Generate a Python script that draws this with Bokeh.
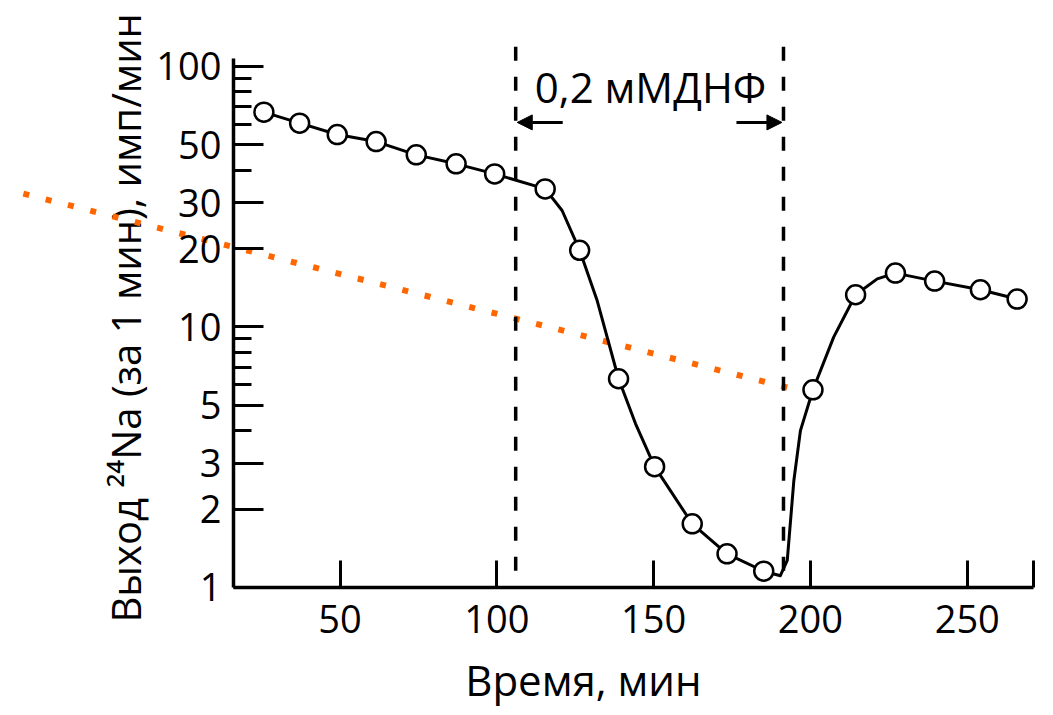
import math
from bokeh.plotting import figure
from bokeh.models import Range1d, FixedTicker, NumeralTickFormatter, Arrow, NormalHead
from bokeh.core.properties import value
from bokeh.embed import file_html
from bokeh.resources import INLINE

# ---- data ----
# measured points (time, min ; 24Na efflux, imp/min)
time_pts = [25.7, 37.1, 49.1, 61.5, 74.3, 87.0, 99.3, 115.4, 126.4, 138.8, 150.3,
            162.3, 173.4, 185.1, 200.8, 214.4, 227.1, 239.6, 254.2, 265.9]
efflux_pts = [66.8, 60.6, 54.8, 51.5, 45.8, 42.3, 38.7, 33.9, 19.7, 6.33, 2.91,
              1.756, 1.347, 1.155, 5.74, 13.3, 16.1, 15.0, 13.9, 12.8]

# hand-drawn curve through the points
curve_time = [25.7, 37.1, 49.1, 61.5, 74.3, 87.0, 99.3, 115.4, 120.8, 126.4, 132.0,
              138.8, 144.2, 150.3, 162.3, 173.4, 185.1, 190.4, 192.6, 194.7, 196.8,
              200.8, 207.4, 214.4, 221.3, 227.1, 239.6, 254.2, 265.9]
curve_efflux = [66.8, 60.6, 54.8, 51.5, 45.8, 42.3, 38.7, 33.9, 28.0, 19.7, 12.6,
                6.33, 4.26, 2.91, 1.756, 1.347, 1.155, 1.11, 1.27, 2.57, 4.0,
                5.74, 9.14, 13.3, 15.3, 16.1, 15.0, 13.9, 12.8]

# DNP application interval (dashed lines)
dnp_times = [106.0, 191.4]
dnp_low = [1.16, 1.16]
dnp_high = [120.0, 120.0]
dnp_label = "0,2 мМДНФ"
dnp_arrow_len = 15.0
dnp_arrow_level = 61.0
dnp_text_pos = (149.0, 84.0)

# extrapolation (orange dotted) line
extrap_time = [-51.0, 194.2]
extrap_efflux = [32.5, 5.79]

# axes
x_min, x_max = 16, 271
y_min, y_max = 1, 107
x_ticks = [50, 100, 150, 200, 250]
y_major = [1, 2, 3, 5, 10, 20, 30, 50, 100]
y_minor = [4, 6, 7, 8, 9, 40, 60, 70, 80, 90]

x_title = "Время, мин"
x_title_pos = (127.6, 0.4434)
y_title = "Выход ²⁴Na (за 1 мин), имп/мин"
y_title_pos = (-18.4, 0.7338)

FONT = "Open Sans"

W, H = 1037, 707
p = figure(width=W, height=H, x_range=Range1d(-58.29, 272.4),
           y_range=Range1d(0.3462, 179.2), y_axis_type="log",
           output_backend="svg", toolbar_location=None,
           min_border=0, min_border_left=0, min_border_right=0,
           min_border_top=0, min_border_bottom=0)
p.outline_line_color = None
p.grid.visible = False
p.background_fill_color = "white"
p.border_fill_color = "white"

# x axis (drawn at y = 1)
xa = p.xaxis[0]
xa.fixed_location = y_min
xa.ticker = FixedTicker(ticks=x_ticks, minor_ticks=[x_max])
xa.bounds = (x_min, x_max)
xa.axis_line_width = 3.5
xa.major_tick_line_width = 3
xa.minor_tick_line_width = 3
xa.major_tick_in = 27
xa.major_tick_out = 0
xa.minor_tick_in = 27
xa.minor_tick_out = 0
xa.major_label_text_font = FONT
xa.major_label_text_font_size = "38px"
xa.major_label_text_color = "black"
xa.major_label_standoff = 18

# y axis (drawn at x = 16)
ya = p.yaxis[0]
ya.fixed_location = x_min
ya.ticker = FixedTicker(ticks=y_major, minor_ticks=y_minor)
ya.formatter = NumeralTickFormatter(format="0")
ya.bounds = (y_min, y_max)
ya.axis_line_width = 3.5
ya.major_tick_line_width = 3
ya.minor_tick_line_width = 3
ya.major_tick_in = 30
ya.major_tick_out = 0
ya.minor_tick_in = 18
ya.minor_tick_out = 0
ya.major_label_text_font = FONT
ya.major_label_text_font_size = "38px"
ya.major_label_text_color = "black"
ya.major_label_standoff = 12

# axis titles
p.text(x=[x_title_pos[0]], y=[x_title_pos[1]], text=[x_title], text_font=value(FONT),
       text_font_size="42px", text_align="center", text_baseline="middle",
       text_color="black")
p.text(x=[y_title_pos[0]], y=[y_title_pos[1]], text=[y_title], text_font=value(FONT),
       text_font_size="40px", text_align="left", text_baseline="middle",
       angle=math.pi / 2, text_color="black")

# orange extrapolation line
p.line(extrap_time, extrap_efflux, line_color="#ff6600", line_width=6, line_dash="6 17")

# dashed DNP lines
p.segment(x0=dnp_times, y0=dnp_low, x1=dnp_times, y1=dnp_high, line_color="black",
          line_width=3.5, line_dash="14 16")

# arrows pointing at the dashed lines
head_kw = dict(size=15, fill_color="black", line_color="black")
p.add_layout(Arrow(end=NormalHead(**head_kw), x_start=dnp_times[0] + dnp_arrow_len,
                   y_start=dnp_arrow_level, x_end=dnp_times[0] + 0.5, y_end=dnp_arrow_level,
                   line_width=3, line_color="black"))
p.add_layout(Arrow(end=NormalHead(**head_kw), x_start=dnp_times[1] - dnp_arrow_len,
                   y_start=dnp_arrow_level, x_end=dnp_times[1] - 0.5, y_end=dnp_arrow_level,
                   line_width=3, line_color="black"))
p.text(x=[dnp_text_pos[0]], y=[dnp_text_pos[1]], text=[dnp_label],
       text_font=value(FONT), text_font_size="42px", text_align="center",
       text_baseline="middle", text_color="black")

# curve and points
p.line(curve_time, curve_efflux, line_color="black", line_width=3, line_join="round")
p.scatter(time_pts, efflux_pts, size=19, fill_color="white", line_color="black",
          line_width=2.5)

open("out.html", "w").write(file_html(p, INLINE))
